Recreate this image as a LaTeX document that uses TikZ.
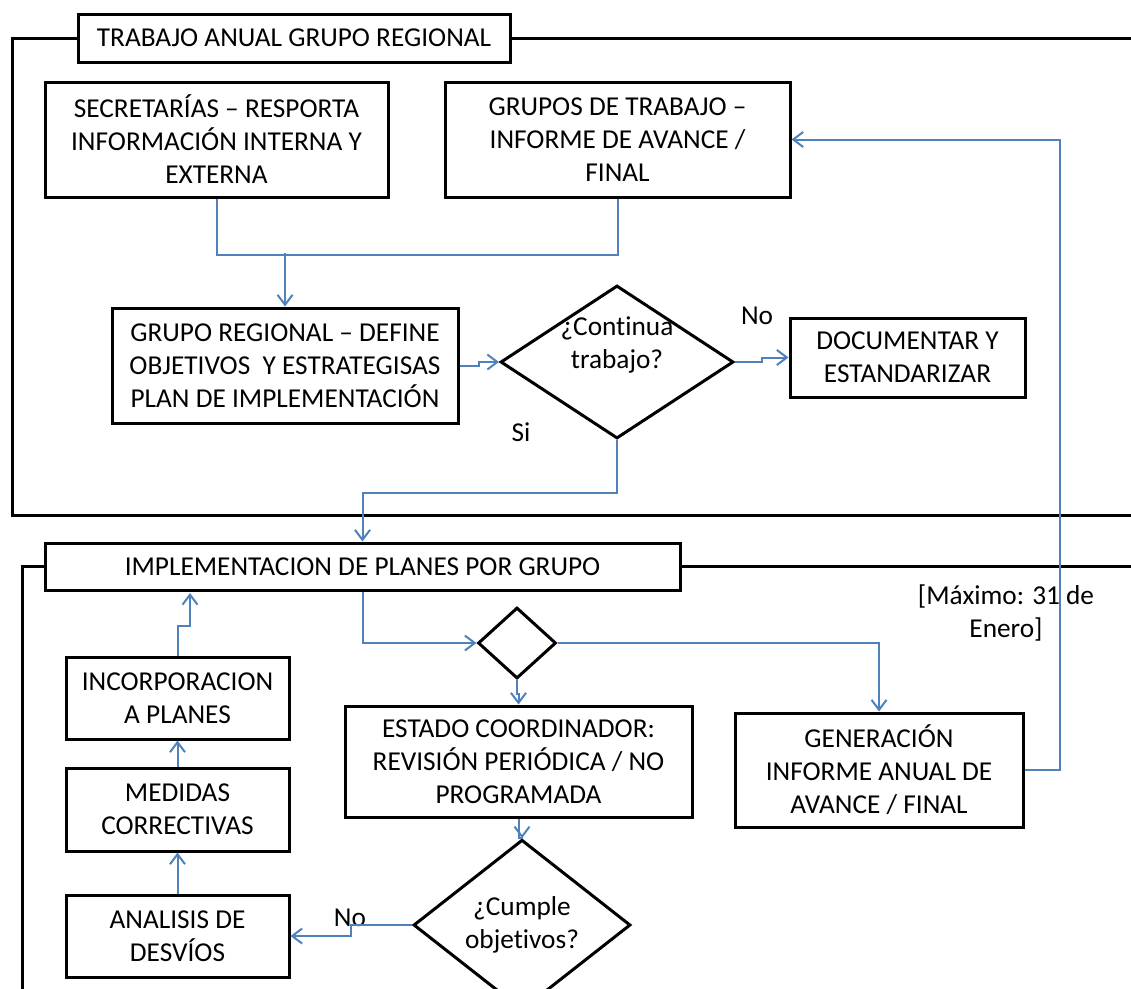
\documentclass[tikz,border=0pt]{standalone}
\usepackage{fontspec}
\setmainfont{Carlito}[Ligatures=NoCommon]
\usepackage{xcolor}
\definecolor{cInk}{HTML}{000000}
\definecolor{cLine}{HTML}{4F81BD}
\usetikzlibrary{positioning,arrows.meta,shapes.geometric,calc}
\tikzset{
  node-box/.style={draw=cInk,line width=3pt,align=center,inner sep=0pt,
    fill=white,font=\fontsize{27.3}{33}\selectfont},
  node-dec/.style={draw=cInk,line width=3pt,diamond,inner sep=0pt,
    align=center,fill=white,font=\fontsize{27.3}{33}\selectfont},
  node-text/.style={align=center,inner sep=0pt,font=\fontsize{27.3}{33}\selectfont},
  frame-line/.style={draw=cInk,line width=3pt},
  conn/.style={draw=cLine,line width=2pt},
  arrow/.style={conn,-{Straight Barb[length=10pt,width=15pt]}},
}

\begin{document}
\begin{tikzpicture}[x=1pt,y=-1pt]
  \useasboundingbox (0,0) rectangle (1131,988);
  % marco superior
  \node[node-box,minimum width=432pt,minimum height=48pt] (title1) at (294,38)
    {TRABAJO ANUAL GRUPO REGIONAL};
  \draw[frame-line] (title1.west) -- (12,38) -- (12,515) -- (1145,515);
  \draw[frame-line] (title1.east) -- (1145,38);
  \node[node-box,minimum width=343pt,minimum height=115pt] (sec) at (216.5,139.5)
    {SECRETARÍAS – RESPORTA\\INFORMACIÓN INTERNA Y\\EXTERNA};
  \node[node-box,minimum width=345pt,minimum height=115pt] (grp) at (617.5,139.5)
    {GRUPOS DE TRABAJO –\\INFORME DE AVANCE /\\FINAL};
  \node[node-box,minimum width=346pt,minimum height=115pt] (reg) at (285,365.5)
    {GRUPO REGIONAL – DEFINE\\OBJETIVOS \ Y ESTRATEGISAS\\PLAN DE IMPLEMENTACIÓN};
  \node[node-dec,minimum width=233pt,minimum height=153pt] (dec1) at (617,362) {};
  \node[node-text] (dec1-txt) at ($(dec1)+(0,-17)$) {¿Continua\\trabajo?};
  \node[node-box,minimum width=235pt,minimum height=79pt] (doc) at (907.5,357.5)
    {DOCUMENTAR Y\\ESTANDARIZAR};
  \node[node-text] (lbl-no1) at (757,316) {No};
  \node[node-text] (lbl-si) at (521,432) {Si};
  % marco inferior
  \node[node-box,minimum width=635pt,minimum height=47pt] (impl) at (362.5,566.5)
    {IMPLEMENTACION DE PLANES POR GRUPO};
  \draw[frame-line] (impl.west) -- (22,566.5) -- (22,1000);
  \draw[frame-line] (impl.east) -- (1145,566.5);
  \node[node-dec,minimum width=78pt,minimum height=71pt] (dec2) at (517,643) {};
  \node[node-box,minimum width=347pt,minimum height=111pt] (est) at (518.5,761.5)
    {ESTADO COORDINADOR:\\REVISIÓN PERIÓDICA / NO\\PROGRAMADA};
  \node[node-box,minimum width=288pt,minimum height=114pt] (gen) at (879,770)
    {GENERACIÓN\\INFORME ANUAL DE\\AVANCE / FINAL};
  \node[node-text] (maxnote) at (1006,613) {[Máximo: 31 de\\Enero]};
  \node[node-dec,minimum width=217pt,minimum height=140pt] (dec3) at (522,925)
    {¿Cumple\\objetivos?};
  \node[node-box,minimum width=223pt,minimum height=82pt] (inc) at (177.5,698)
    {INCORPORACION\\A PLANES};
  \node[node-box,minimum width=223pt,minimum height=83pt] (med) at (177.5,809.5)
    {MEDIDAS\\CORRECTIVAS};
  \node[node-box,minimum width=223pt,minimum height=82pt] (ana) at (177.5,936)
    {ANALISIS DE\\DESVÍOS};
  \node[node-text] (lbl-no2) at (350,918) {No};
  \coordinate (join1) at (285,253);
  \coordinate (impl-in) at (190,593);
  % conectores
  \draw[conn] (sec.south) -- ++(0,56) -| (grp.south);
  \draw[arrow] (join1) -- (reg.north);
  \draw[arrow] (reg.east) -| ($(reg.east)!0.5!(dec1.west)$) |- (dec1.west);
  \draw[arrow] (dec1.east) -| ($(dec1.east)!0.5!(doc.west)$) |- (doc.west);
  \draw[arrow] (dec1.south) -- ++(0,53) -| (impl.north);
  \draw[arrow] (impl.south) |- (dec2.west);
  \draw[arrow] (dec2.east) -| (gen.north);
  \draw[arrow] (dec2.south) -- ++(0,14) -| (est.north);
  \draw[arrow] (gen.east) -- ++(35,0) |- (grp.east);
  \draw[arrow] (est.south) -- ++(0,19) -| (dec3.north);
  \draw[arrow] (dec3.west) -- ++(-61,0) |- (ana.east);
  \draw[arrow] (ana.north) -- (med.south);
  \draw[arrow] (med.north) -- (inc.south);
  \draw[arrow] (inc.north) -- ++(0,-30) -| (impl-in);
\end{tikzpicture}
\end{document}
